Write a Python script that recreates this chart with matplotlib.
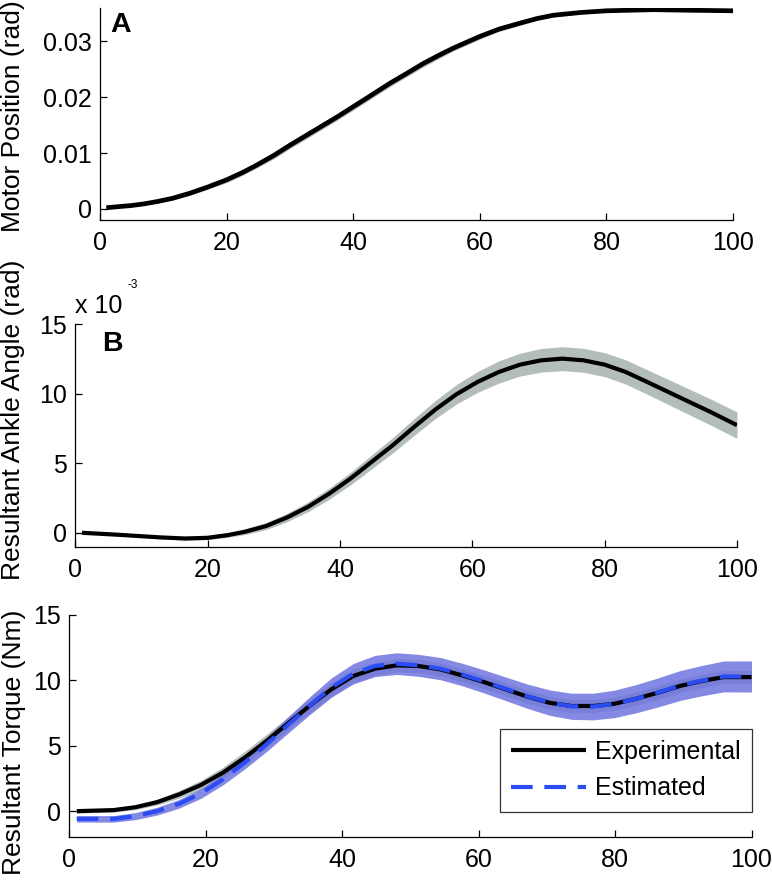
import matplotlib
matplotlib.use("Agg")
import matplotlib.pyplot as plt
import numpy as np

plt.rcParams['font.family'] = ['Liberation Sans', 'DejaVu Sans']

# ---- data ----
time_a = [1, 3, 5, 7, 9, 11.5, 14.2, 17, 20, 22.5, 24.7, 27.5, 30, 32.5, 35.3, 37.5, 40, 42.5, 45.8,
          48.5, 51, 53.5, 55.8, 58, 60, 63, 66.4, 69, 71.6, 76, 80, 87.4, 93, 100]
motor_pos = [0.0002, 0.0004, 0.0006, 0.0009, 0.0013, 0.0019, 0.0028, 0.0039, 0.0052, 0.0065,
             0.0078, 0.0096, 0.0114, 0.0131, 0.0150, 0.0165, 0.0183, 0.0201, 0.0225,
             0.0243, 0.0260, 0.0275, 0.0288, 0.0299, 0.0309, 0.0322, 0.0333, 0.0341, 0.0347,
             0.0352, 0.0355, 0.0357, 0.0356, 0.0355]
motor_sd = [0.0001, 0.0001, 0.0002, 0.0002, 0.0003, 0.0003, 0.0004, 0.0004, 0.0005, 0.0005,
            0.0005, 0.0006, 0.0006, 0.0006, 0.0006, 0.0006, 0.0006, 0.0006, 0.0006,
            0.0006, 0.0006, 0.0006, 0.0005, 0.0005, 0.0005, 0.0004, 0.0004, 0.0003, 0.0003,
            0.0002, 0.0002, 0.0001, 0.0001, 0.0001]

time_b = [1, 6.4, 12.8, 16.6, 20, 23, 25.6, 28.8, 32, 35.2, 38.4, 41.6, 44.8, 48, 51.2, 54.4,
          57.6, 60.8, 64, 67.2, 70.4, 73.6, 76.8, 80, 83.2, 86.4, 89.6, 92.8, 96, 100]
ankle_milli = [0.0, -0.14, -0.33, -0.41, -0.36, -0.17, 0.07, 0.48, 1.1, 1.87, 2.82, 3.9, 5.1,
               6.3, 7.6, 8.85, 9.95, 10.84, 11.55, 12.08, 12.39, 12.51, 12.39, 12.08, 11.55,
               10.84, 10.12, 9.4, 8.68, 7.73]
ankle_sd = [0.05, 0.07, 0.1, 0.12, 0.14, 0.16, 0.2, 0.25, 0.3, 0.35, 0.4, 0.45, 0.5, 0.55, 0.6,
            0.65, 0.7, 0.75, 0.8, 0.82, 0.85, 0.86, 0.86, 0.86, 0.87, 0.88, 0.9, 0.92, 0.94, 0.95]

time_c = [1.1, 6.5, 9.7, 12.9, 16.1, 19.3, 22.5, 25.7, 28.9, 32.0, 35.2, 38.4, 41.6, 44.8, 48.0,
          51.2, 54.4, 57.6, 60.8, 64.0, 67.2, 70.4, 73.6, 76.8, 79.9, 83.1, 86.3, 89.5, 92.7,
          95.9, 100]
torque_exp = [0.0, 0.08, 0.3, 0.69, 1.28, 2.0, 2.93, 4.08, 5.36, 6.68, 8.04, 9.31, 10.33, 10.89,
              11.15, 11.1, 10.84, 10.38, 9.87, 9.31, 8.75, 8.29, 8.04, 8.04, 8.21, 8.6, 9.06,
              9.57, 9.95, 10.25, 10.25]
torque_exp_sd = [0.15, 0.15, 0.18, 0.22, 0.28, 0.35, 0.42, 0.48, 0.5, 0.5, 0.5, 0.5, 0.5, 0.5,
                 0.5, 0.5, 0.5, 0.5, 0.5, 0.5, 0.5, 0.5, 0.5, 0.5, 0.5, 0.5, 0.5, 0.5, 0.5,
                 0.5, 0.5]
torque_est = [-0.59, -0.59, -0.38, 0.0, 0.56, 1.35, 2.42, 3.7, 5.1, 6.56, 8.04, 9.44, 10.5,
              11.1, 11.28, 11.15, 10.9, 10.45, 9.92, 9.35, 8.78, 8.3, 8.02, 8.0, 8.2, 8.6,
              9.08, 9.6, 9.98, 10.3, 10.3]
torque_est_sd = [0.25, 0.25, 0.27, 0.3, 0.33, 0.37, 0.42, 0.48, 0.55, 0.62, 0.68, 0.74, 0.78,
                 0.81, 0.83, 0.84, 0.85, 0.86, 0.88, 0.9, 0.93, 0.97, 1.0, 1.02, 1.05, 1.08,
                 1.11, 1.14, 1.16, 1.18, 1.19]

xticks = [0, 20, 40, 60, 80, 100]
yticks_a = [0, 0.01, 0.02, 0.03]
yticklabels_a = ['0', '0.01', '0.02', '0.03']
yticks_b = [0, 5, 10, 15]
yticks_c = [0, 5, 10, 15]

# ---- figure ----
W, H = 772, 890
fig = plt.figure(figsize=(W / 100, H / 100), dpi=100)

def add_axes_px(left, top, right, bottom):
    return fig.add_axes([left / W, 1 - bottom / H, (right - left) / W, (bottom - top) / H])

axA = add_axes_px(100, 8, 733, 220)
axB = add_axes_px(75.3, 324, 737, 546.7)
axC = add_axes_px(69.2, 615, 751.5, 837.3)

band_gray = '#b3bdbb'
band_blue = '#6f74de'
line_blue = '#2a4cf2'
FS = 18

def style(ax):
    for s in ['top', 'right']:
        ax.spines[s].set_visible(False)
    for s in ['left', 'bottom']:
        ax.spines[s].set_linewidth(0.9)
    ax.tick_params(direction='in', length=5, width=0.9, labelsize=FS)
    ax.tick_params(axis='x', pad=8)
    ax.tick_params(axis='y', pad=6)
    ax.set_xlim(0, 100)
    ax.set_xticks(xticks)

# Panel A
ta = np.array(time_a); m = np.array(motor_pos); ms = np.array(motor_sd)
axA.fill_between(ta, m - ms, m + ms, color=band_gray, lw=0)
axA.plot(ta, m, color='black', lw=3.4, solid_capstyle='butt', solid_joinstyle='round')
style(axA)
axA.set_ylim(-0.002, 0.036)
axA.set_yticks(yticks_a)
axA.set_yticklabels(yticklabels_a)
axA.set_ylabel('Motor Position (rad)', fontsize=19)
axA.yaxis.set_label_coords(25.5 / W, 1 - 116 / H, transform=fig.transFigure)
axA.text(0.017, 0.98, 'A', transform=axA.transAxes, fontsize=20.5, fontweight='bold',
         ha='left', va='top')

# Panel B
tb = np.array(time_b); a = np.array(ankle_milli); asd = np.array(ankle_sd)
axB.fill_between(tb, a - asd, a + asd, color=band_gray, lw=0)
axB.plot(tb, a, color='black', lw=3.0, solid_capstyle='butt', solid_joinstyle='round')
style(axB)
axB.set_ylim(-1, 15)
axB.set_yticks(yticks_b)
axB.set_ylabel('Resultant Ankle Angle (rad)', fontsize=19)
axB.yaxis.set_label_coords(25.5 / W, 1 - 420 / H, transform=fig.transFigure)
axB.text(0.041, 0.968, 'B', transform=axB.transAxes, fontsize=20.5, fontweight='bold',
         ha='left', va='top')
fig.text(75 / W, 1 - 313 / H, 'x 10', fontsize=18, ha='left', va='baseline')
fig.text(128 / W, 1 - 288 / H, '-3', fontsize=8.5, ha='left', va='baseline')

# Panel C
tc = np.array(time_c)
te = np.array(torque_exp); tes = np.array(torque_exp_sd)
tm = np.array(torque_est); tms = np.array(torque_est_sd)
axC.fill_between(tc, te - tes, te + tes, color=band_gray, lw=0)
axC.fill_between(tc, tm - tms, tm + tms, color=band_blue, alpha=0.85, lw=0)
axC.plot(tc, te, color='black', lw=3.0, label='Experimental', solid_capstyle='butt',
         solid_joinstyle='round')
axC.plot(tc, tm, color=line_blue, lw=3.0, dashes=(5.2, 2.8), label='Estimated')
style(axC)
axC.set_ylim(-2, 15)
axC.set_yticks(yticks_c)
axC.set_ylabel('Resultant Torque (Nm)', fontsize=19)
axC.yaxis.set_label_coords(26.5 / W, 1 - 742 / H, transform=fig.transFigure)
leg = axC.legend(loc='lower right', bbox_to_anchor=(1.0, (837.3 - 811.7) / 222.3),
                 borderaxespad=0, fontsize=FS, frameon=True, fancybox=False,
                 edgecolor='black', handlelength=3.0, handletextpad=0.35,
                 labelspacing=0.5, borderpad=0.45)
leg.get_frame().set_linewidth(0.9)

fig.savefig('out.png', dpi=100)
